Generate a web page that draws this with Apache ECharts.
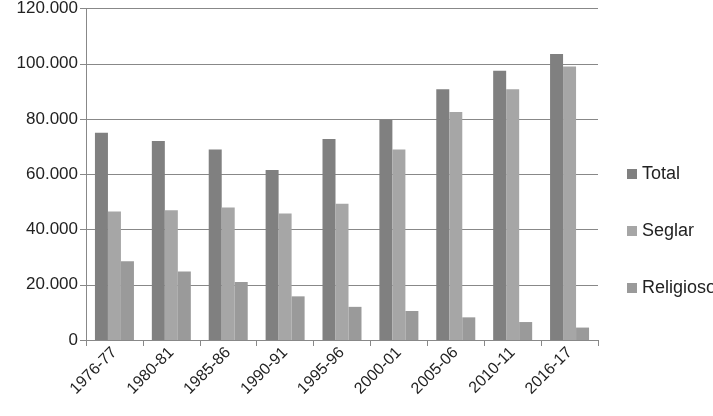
<!DOCTYPE html><html><head><meta charset="utf-8"><script src="https://cdn.jsdelivr.net/npm/echarts@6/dist/echarts.min.js"></script></head><body style="margin:0"><div id="c" style="width:713px;height:416px"></div><script>
const categories=["1976-77","1980-81","1985-86","1990-91","1995-96","2000-01","2005-06","2010-11","2016-17"];
const total=[75000,72000,69000,61500,72800,79700,90800,97500,103500];
const seglar=[46500,47000,48000,45800,49300,69000,82500,90800,99000];
const religioso=[28500,24800,21000,15800,12000,10500,8200,6500,4500];
const ch=echarts.init(document.getElementById('c'));
const f="'Liberation Sans', sans-serif";
ch.setOption({animation:false,
grid:{left:86,right:115,top:8,bottom:76},
legend:{orient:'vertical',left:622,top:160,itemGap:39,itemWidth:10,itemHeight:10,icon:'rect',textStyle:{fontFamily:f,fontSize:18,color:'#222'}},
xAxis:{type:'category',data:categories,axisTick:{show:true,length:6,lineStyle:{color:'#888'}},axisLine:{lineStyle:{color:'#888'}},axisLabel:{rotate:45,fontFamily:f,fontSize:16,color:'#222',margin:10}},
yAxis:{type:'value',min:0,max:120000,interval:20000,axisLine:{show:true,lineStyle:{color:'#888'}},axisTick:{show:true,length:6,lineStyle:{color:'#888'}},splitLine:{lineStyle:{color:'#888'}},axisLabel:{fontFamily:f,fontSize:17,color:'#222',formatter:v=>v===0?'0':(v/1000)+'.000'}},
series:[
{name:'Total',type:'bar',data:total,itemStyle:{color:'#808080'},barWidth:13,barGap:'0%'},
{name:'Seglar',type:'bar',data:seglar,itemStyle:{color:'#a6a6a6'},barWidth:13},
{name:'Religioso',type:'bar',data:religioso,itemStyle:{color:'#9a9a9a'},barWidth:13}]});
</script></body></html>
